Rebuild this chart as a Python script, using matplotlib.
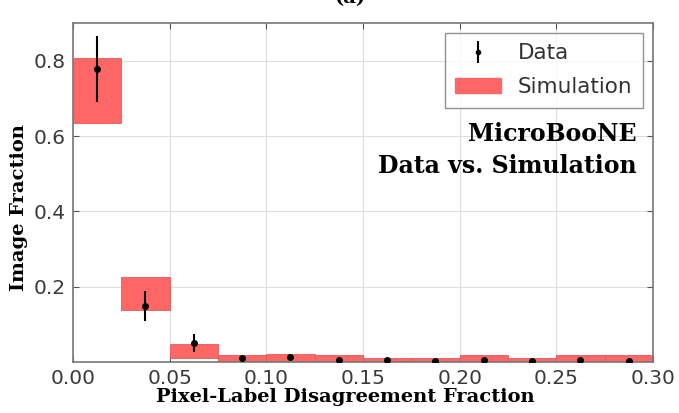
import matplotlib.pyplot as plt
import matplotlib.patches as mpatches
import numpy as np

# histogram bins of pixel-label disagreement
bin_edges = [0.0, 0.025, 0.05, 0.075, 0.1, 0.125, 0.15, 0.175, 0.2, 0.225, 0.25, 0.275, 0.3]

# simulation band (low / high edge per bin)
sim_low = [0.635, 0.138, 0.010, 0.0, 0.0, 0.0, 0.0, 0.0, 0.0, 0.0, 0.0, 0.0]
sim_high = [0.808, 0.226, 0.047, 0.019, 0.020, 0.019, 0.010, 0.010, 0.019, 0.010, 0.019, 0.019]

# data points with errors
data_val = [0.778, 0.149, 0.050, 0.011, 0.014, 0.005, 0.004, 0.003, 0.005, 0.003, 0.004, 0.003]
data_err = [0.087, 0.040, 0.023, 0.005, 0.006, 0.003, 0.002, 0.002, 0.003, 0.002, 0.002, 0.002]

edges = np.array(bin_edges)
centers = 0.5 * (edges[:-1] + edges[1:])
widths = np.diff(edges)
low = np.array(sim_low)
high = np.array(sim_high)

fig = plt.figure(figsize=(6.79, 4.13), dpi=100)
ax = fig.add_axes([0.1075, 0.1235, 0.8542, 0.8208])

red = '#ff6666'
ax.bar(edges[:-1], high - low, width=widths, bottom=low, align='edge',
       color=red, edgecolor='#e25a5a', linewidth=0.6, zorder=2)
ax.errorbar(centers, data_val, yerr=data_err, fmt='o', color='black',
            markersize=4, elinewidth=1.5, capsize=0, zorder=3)

ax.set_xlim(0.0, 0.3)
ax.set_ylim(0.0, 0.9)
ax.set_xticks([0.0, 0.05, 0.1, 0.15, 0.2, 0.25, 0.3])
ax.set_xticklabels(['0.00', '0.05', '0.10', '0.15', '0.20', '0.25', '0.30'])
ax.set_yticks([0.2, 0.4, 0.6, 0.8])
ax.set_yticklabels(['0.2', '0.4', '0.6', '0.8'])
ax.tick_params(direction='in', top=True, right=True, labelsize=14.5,
               labelcolor='#3a3a3a', color='#555555', length=4, pad=5)
ax.grid(True, color='#dddddd', linewidth=0.8, zorder=0)
ax.set_axisbelow(True)
for sp in ax.spines.values():
    sp.set_color('#777777')
    sp.set_linewidth(1.2)

serif = dict(family='DejaVu Serif', weight='bold', size=14)
ax.set_xlabel('Pixel-Label Disagreement Fraction', fontdict=serif)
ax.set_ylabel('Image Fraction', fontdict=serif)
ax.xaxis.set_label_coords(0.47, -0.078)
ax.yaxis.set_label_coords(-0.078, 0.455)

data_handle = ax.errorbar([], [], yerr=[], fmt='o', color='black',
                          markersize=3, elinewidth=1.5, capsize=0)
sim_handle = mpatches.Patch(color=red)
leg = ax.legend([data_handle, sim_handle], ['Data', 'Simulation'],
                loc='upper right', fontsize=15.5, frameon=True, fancybox=False,
                borderaxespad=0.45, handlelength=2.1, labelspacing=0.65,
                borderpad=0.5)
leg.get_frame().set_edgecolor('#777777')
leg.get_frame().set_linewidth(1.0)
for t in leg.get_texts():
    t.set_color('#333333')

ax.text(0.971, 0.708, 'MicroBooNE\nData vs. Simulation', transform=ax.transAxes,
        ha='right', va='top', family='DejaVu Serif', weight='bold', size=17,
        linespacing=1.4)

fig.text(0.515, 1.005, '(a)', ha='center', va='center', fontdict=serif)

fig.savefig('out.png', dpi=100)
